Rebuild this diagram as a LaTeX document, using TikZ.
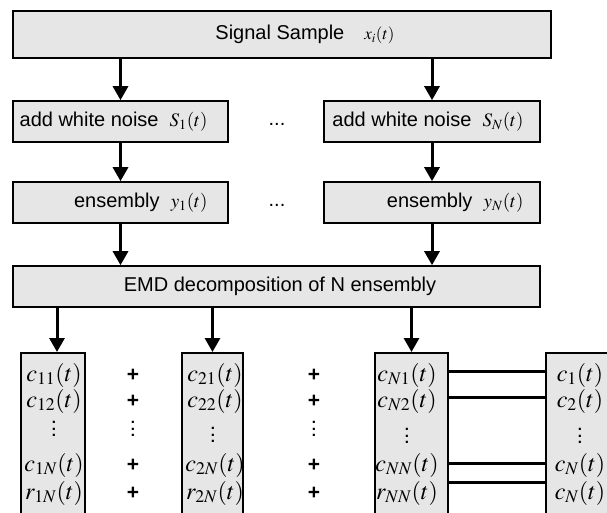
\documentclass[tikz,border=0pt]{standalone}
\usepackage{mathptmx}
\usepackage[no-math]{fontspec}
\setmainfont{Liberation Sans}
\usetikzlibrary{arrows.meta}
\definecolor{boxgray}{RGB}{230,230,230}
\newcommand{\tallvdots}{\vbox{\baselineskip6.5pt\lineskiplimit0pt\hbox{.}\hbox{.}\hbox{.}}}

\begin{document}
\begin{tikzpicture}[x=1pt,y=-1pt,
  box/.style={draw,fill=boxgray,line width=1.6pt,inner sep=0pt},
  lbl/.style={inner sep=0pt,font=\fontsize{20}{22}\selectfont},
  cell/.style={inner sep=0pt,font=\fontsize{24}{26}\selectfont},
  vd/.style={inner sep=0pt,font=\fontsize{15}{16}\selectfont\bfseries},
  plus/.style={inner sep=0pt,font=\fontsize{21}{22}\selectfont\bfseries},
  arr/.style={line width=3pt,-{Triangle[width=15pt,length=14pt]}},
  link/.style={line width=3pt}]

\useasboundingbox (0,0) rectangle (607,512);
\clip (0,0) rectangle (607,512);

% boxes of the upper part
\node[box,minimum width=538pt,minimum height=47pt] (sig) at (282,34.5) {};
\node[box,minimum width=215pt,minimum height=41pt] (w1) at (120.5,121.5) {};
\node[box,minimum width=216pt,minimum height=41pt] (wN) at (432,121.5) {};
\node[box,minimum width=215pt,minimum height=41pt] (e1) at (120.5,202.5) {};
\node[box,minimum width=216pt,minimum height=41pt] (eN) at (432,202.5) {};
\node[box,minimum width=527pt,minimum height=41pt] (emd) at (276.5,286.5) {};

\node[lbl] (sigt) at (305,34.5) {Signal Sample\quad{\fontsize{17}{19}\selectfont$x_i(t)$}};
\node[lbl,anchor=east] (w1t) at ([xshift=-21pt]w1.east) {add white noise\ \ {\fontsize{19}{21}\selectfont$S_1(t)$}};
\node[lbl,anchor=east] (wNt) at ([xshift=-17pt]wN.east) {add white noise\ \ {\fontsize{19}{21}\selectfont$S_N(t)$}};
\node[lbl,anchor=east] (e1t) at ([xshift=-21pt]e1.east) {ensembly\ \ {\fontsize{19}{21}\selectfont$y_1(t)$}};
\node[lbl,anchor=east] (eNt) at ([xshift=-17pt]eN.east) {ensembly\ \ {\fontsize{19}{21}\selectfont$y_N(t)$}};
\node[lbl] (emdt) at (280,286.5) {EMD decomposition of N ensembly};
\node[lbl] (dots1) at (277,124) {...};
\node[lbl] (dots2) at (277,205) {...};

\draw[arr] (sig.south -| w1) -- (w1.north);
\draw[arr] (sig.south -| wN) -- (wN.north);
\draw[arr] (w1) -- (e1);
\draw[arr] (wN) -- (eN);
\draw[arr] (e1) -- (emd.north -| e1);
\draw[arr] (eN) -- (emd.north -| eN);

% columns of components
\node[box,minimum width=64pt,minimum height=190pt,anchor=north] (b1) at (53,352) {};
\node[box,minimum width=61pt,minimum height=190pt,anchor=north] (b2) at (212.5,352) {};
\node[box,minimum width=73pt,minimum height=190pt,anchor=north] (b3) at (411.5,352) {};
\node[box,minimum width=74pt,minimum height=190pt,anchor=north] (b4) at (583,352) {};

\draw[arr] ([xshift=4pt]emd.south -| b1) -- ([xshift=4pt]b1.north);
\draw[arr] (emd.south -| b2) -- (b2.north);
\draw[arr] (emd.south -| b3) -- (b3.north);

\node[cell] (c11) at (54,375) {$c_{11}(t)$};
\node[cell] (c12) at (54,401) {$c_{12}(t)$};
\node[vd]   (v1)  at (54,429) {\tallvdots};
\node[cell] (c1N) at (54,465) {$c_{1N}(t)$};
\node[cell] (r1N) at (54,493) {$r_{1N}(t)$};

\node[plus] (p11) at (133,375) {+};
\node[plus] (p12) at (133,401) {+};
\node[vd]   (p13) at (133,429) {\tallvdots};
\node[plus] (p14) at (133,465) {+};
\node[plus] (p15) at (133,493) {+};

\node[cell] (c21) at (215,375) {$c_{21}(t)$};
\node[cell] (c22) at (215,401) {$c_{22}(t)$};
\node[vd]   (v2)  at (213,435) {\tallvdots};
\node[cell] (c2N) at (215,465) {$c_{2N}(t)$};
\node[cell] (r2N) at (215,493) {$r_{2N}(t)$};

\node[plus] (p21) at (314,375) {+};
\node[plus] (p22) at (314,401) {+};
\node[vd]   (p23) at (314,429) {\tallvdots};
\node[plus] (p24) at (314,465) {+};
\node[plus] (p25) at (314,493) {+};

\node[cell] (cN1) at (407,375) {$c_{N1}(t)$};
\node[cell] (cN2) at (407,401) {$c_{N2}(t)$};
\node[vd]   (v3)  at (407,436) {\tallvdots};
\node[cell] (cNN) at (407,465) {$c_{NN}(t)$};
\node[cell] (rNN) at (407,493) {$r_{NN}(t)$};

\node[cell] (m1) at (580,375) {$c_1(t)$};
\node[cell] (m2) at (580,401) {$c_2(t)$};
\node[vd]   (v4) at (580,436) {\tallvdots};
\node[cell] (m3) at (580,465) {$c_N(t)$};
\node[cell] (m4) at (580,493) {$c_N(t)$};

\draw[link] ([yshift=4pt]b3.east |- cN1) -- ([yshift=4pt]b4.west |- m1);
\draw[link] ([yshift=4pt]b3.east |- cN2) -- ([yshift=4pt]b4.west |- m2);
\draw[link] ([yshift=2pt]b3.east |- cNN) -- ([yshift=2pt]b4.west |- m3);
\draw[link] ([yshift=11pt]b3.east |- rNN) -- ([yshift=11pt]b4.west |- m4);
\end{tikzpicture}
\end{document}
